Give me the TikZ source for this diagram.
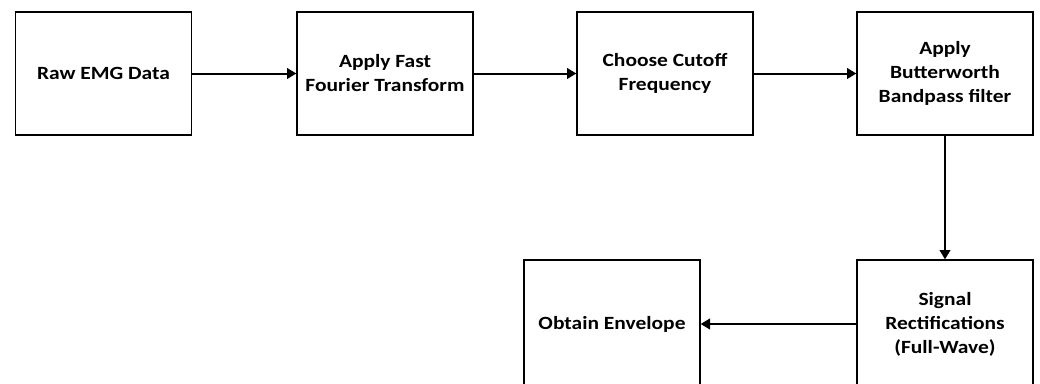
\documentclass[tikz,border=0pt]{standalone}
\usepackage{fontspec}
\setmainfont[FakeStretch=1.15]{Carlito}
\usetikzlibrary{arrows.meta}
\tikzset{
  stage/.style={draw, line width=1pt, minimum width=132pt, minimum height=92.25pt,
    align=center, font=\bfseries\fontsize{14}{18}\selectfont, inner sep=2pt},
  flow/.style={line width=1.5pt, -{Triangle[length=7pt,width=8pt]}}
}
\begin{document}
\begin{tikzpicture}[x=0.75pt,y=-0.75pt]
                        \useasboundingbox (0,0) rectangle (1040,383);
                        \node[stage] (raw) at (103.5,73.5) {Raw EMG Data};
                        \node[stage] (fft) at (385,73.5) {Apply Fast\\Fourier Transform};
                        \node[stage] (cutoff) at (665,73.5) {Choose Cutoff\\Frequency};
                        \node[stage] (butter) at (945,73.5) {Apply\\Butterworth\\Bandpass filter};
                        \node[stage, minimum height=96pt] (rect) at (945,324) {Signal\\Rectifications\\(Full-Wave)};
                        \node[stage, minimum height=96pt] (env) at (612,324) {Obtain Envelope};
                        \draw[flow] (raw) -- (fft);
                        \draw[flow] (fft) -- (cutoff);
                        \draw[flow] (cutoff) -- (butter);
                        \draw[flow] (butter) -- (rect);
                        \draw[flow] (rect) -- (env);
                    \end{tikzpicture}
\end{document}
